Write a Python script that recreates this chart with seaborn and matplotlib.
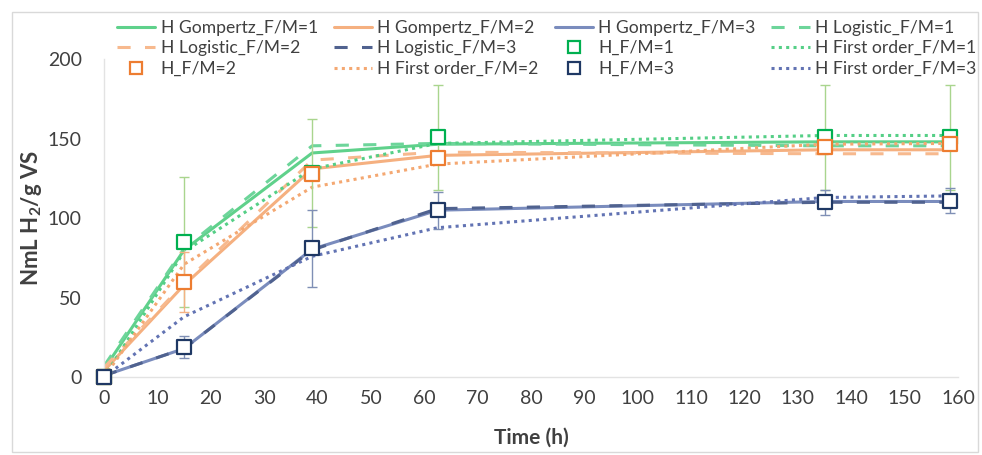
import numpy as np
import pandas as pd
import matplotlib
matplotlib.use("Agg")
import matplotlib.pyplot as plt
from matplotlib.lines import Line2D
from matplotlib.patches import Rectangle
import seaborn as sns

# ---------------- data ----------------
time = [0, 15, 39, 62.5, 135, 158.5]

obs_fm1 = [0, 85, 128.5, 151, 151, 151]
err_fm1 = [0, 41, 34, 33, 33, 33]
obs_fm2 = [0, 60, 128, 138, 145, 146.5]
err_fm2 = [0, 19, 2, 2, 2, 2]
obs_fm3 = [0, 19, 81, 105, 110, 111]
err_fm3 = [0, 7, 24, 11.5, 8, 8]

gompertz_fm1 = [5, 80, 141, 146.5, 148, 148]
gompertz_fm2 = [4, 58, 131, 139.5, 143, 143]
gompertz_fm3 = [1, 18, 80.5, 105, 110.5, 110.5]
logistic_fm1 = [7, 81, 145.5, 147, 145.5, 145.5]
logistic_fm2 = [6, 59, 136.5, 141.5, 140.5, 140.5]
logistic_fm3 = [1, 18, 80, 106, 110, 110]
first_fm1 = [0, 79, 131, 147, 152, 152]
first_fm2 = [0, 71, 119.5, 134, 146.5, 147]
first_fm3 = [0, 38, 76, 94, 113, 114]

x_ticks = list(range(0, 161, 10))
y_ticks = [0, 50, 100, 150, 200]

# ---------------- style ----------------
sns.set_theme(style="white")
FONT = "Lato"
plt.rcParams["font.family"] = [FONT, "DejaVu Sans"]
plt.rcParams["mathtext.fontset"] = "custom"
plt.rcParams["mathtext.rm"] = FONT
plt.rcParams["mathtext.bf"] = FONT + ":bold"

model_series = [
    ("H Gompertz_F/M=1", gompertz_fm1, "#5fd18b", "solid"),
    ("H Gompertz_F/M=2", gompertz_fm2, "#f5b080", "solid"),
    ("H Gompertz_F/M=3", gompertz_fm3, "#7a8cbd", "solid"),
    ("H Logistic_F/M=1", logistic_fm1, "#6dd59a", "dash"),
    ("H Logistic_F/M=2", logistic_fm2, "#f7b98e", "dash"),
    ("H Logistic_F/M=3", logistic_fm3, "#50628f", "dash"),
    ("H First order_F/M=1", first_fm1, "#55cf86", "dot"),
    ("H First order_F/M=2", first_fm2, "#f4a872", "dot"),
    ("H First order_F/M=3", first_fm3, "#6273b3", "dot"),
]
dash_map = {"solid": "", "dash": (4.3, 4.7), "dot": (1.0, 1.4)}

rows = []
for name, vals, col, sty in model_series:
    for t, v in zip(time, vals):
        rows.append({"time": t, "value": v, "series": name})
df = pd.DataFrame(rows)

palette = {n: c for n, _, c, _ in model_series}
dashes = {n: dash_map[s] for n, _, _, s in model_series}

fig = plt.figure(figsize=(9.82, 4.55), dpi=100)
ax = fig.add_axes([104 / 982, 0.171, 854 / 982, 0.699])

LW = 2.2
sns.lineplot(data=df, x="time", y="value", hue="series", style="series",
             palette=palette, dashes=dashes, linewidth=LW, legend=False,
             ax=ax, zorder=2)

obs_series = [
    ("H_F/M=1", obs_fm1, err_fm1, "#00b050", "#a9d58e"),
    ("H_F/M=2", obs_fm2, err_fm2, "#ed7d31", "#f4b183"),
    ("H_F/M=3", obs_fm3, err_fm3, "#1f3864", "#7f8fb5"),
]
for i, (name, vals, errs, ec, barc) in enumerate(obs_series):
    ax.errorbar(time, vals, yerr=errs, fmt="none", ecolor=barc,
                elinewidth=1.0, capsize=3.5, capthick=1.0, zorder=3 + i)
    sns.scatterplot(x=time, y=vals, marker="s", s=95, facecolor="white",
                    edgecolor=ec, linewidth=1.6, ax=ax, zorder=6 + i,
                    legend=False, clip_on=False)

ax.set_xlim(0, 160)
ax.set_ylim(0, 200)
ax.set_xticks(x_ticks)
ax.set_yticks(y_ticks)
ax.tick_params(axis="both", length=0, labelsize=14, colors="#404040")
ax.tick_params(axis="x", pad=9)
ax.tick_params(axis="y", pad=16)
for side in ["top", "right"]:
    ax.spines[side].set_visible(False)
for side in ["left", "bottom"]:
    ax.spines[side].set_color("#e3e3e3")
    ax.spines[side].set_linewidth(1.0)
ax.grid(False)
ax.set_xlabel("Time (h)", fontsize=15, fontweight="bold", color="#404040",
              labelpad=15)
ax.set_ylabel(r"NmL H$_\mathbf{2}$/g VS", fontsize=16, fontweight="bold",
              color="#404040", labelpad=3)

# ---------------- legend ----------------
def model_handle(col, sty):
    ls = "-" if sty == "solid" else (0, dash_map[sty])
    return Line2D([0], [0], color=col, lw=LW, linestyle=ls)

def obs_handle(ec):
    return Line2D([0], [0], color="none", marker="s", markersize=9,
                  markerfacecolor="white", markeredgecolor=ec,
                  markeredgewidth=1.6, linestyle="none")

h = {}
for name, _, col, sty in model_series:
    h[name] = model_handle(col, sty)
for name, _, _, ec, _ in obs_series:
    h[name] = obs_handle(ec)

row_major = [
    "H Gompertz_F/M=1", "H Gompertz_F/M=2", "H Gompertz_F/M=3", "H Logistic_F/M=1",
    "H Logistic_F/M=2", "H Logistic_F/M=3", "H_F/M=1", "H First order_F/M=1",
    "H_F/M=2", "H First order_F/M=2", "H_F/M=3", "H First order_F/M=3",
]
ncol, nrow = 4, 3
col_major = [row_major[r * ncol + c] for c in range(ncol) for r in range(nrow)]
fig.legend([h[n] for n in col_major], col_major, ncol=ncol, loc="upper left",
           bbox_to_anchor=(0.112, 0.972), frameon=False, fontsize=12.6,
           handlelength=2.2, handletextpad=0.3, columnspacing=0.9,
           labelspacing=0.26, borderaxespad=0, labelcolor="#404040")

fig.patches.append(Rectangle((0.012, 0.006), 0.984, 0.968, transform=fig.transFigure,
                             fill=False, edgecolor="#d9d9d9", linewidth=1.0))

fig.savefig("out.png", dpi=100)
